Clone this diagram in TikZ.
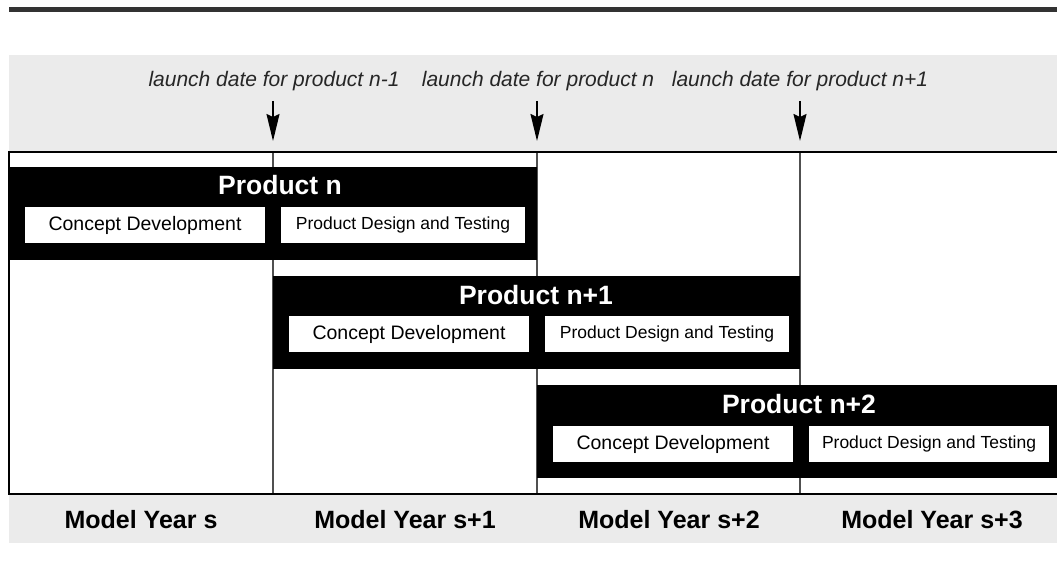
\documentclass[tikz,border=0pt]{standalone}
\usepackage{fontspec}
\setmainfont{Liberation Sans}
\usetikzlibrary{arrows.meta}

\definecolor{bandgray}{RGB}{235,235,235}
\definecolor{rulegray}{RGB}{51,51,51}
\definecolor{linegray}{RGB}{80,80,80}

\tikzstyle{launchlabel} = [anchor=base, font=\fontsize{21}{25}\selectfont\itshape, text=black!85]
\tikzstyle{productbar}  = [rectangle, anchor=north west, fill=black, inner sep=0pt, minimum height=93pt]
\tikzstyle{producttitle}= [anchor=base, text=white, font=\fontsize{26.5}{30}\selectfont\bfseries]
\tikzstyle{phasebox}    = [rectangle, fill=white, inner sep=0pt, minimum width=240pt, minimum height=36pt, font=\fontsize{19.5}{22}\selectfont]
\tikzstyle{designbox}   = [phasebox, font=\fontsize{17.5}{22}\selectfont]
\tikzstyle{yearlabel}   = [anchor=base, font=\fontsize{25}{30}\selectfont\bfseries]
\tikzstyle{launcharrow} = [line width=1.5pt, -{Stealth[length=27pt, width=13pt, inset=3pt]}]

\begin{document}
\begin{tikzpicture}[x=1pt, y=-1pt]
    \useasboundingbox (0,0) rectangle (1057,577);
    % bands and grid
    \fill[rulegray] (9,7) rectangle (1057,12);
    \fill[bandgray] (9,55) rectangle (1057,152);
    \fill[bandgray] (9,494) rectangle (1057,543);
    \foreach \x in {273, 537, 800}
        \draw[linegray, line width=1.2pt] (\x,152) -- (\x,494);
    \draw[line width=1.4pt] (1057,152) -- (9,152) -- (9,494) -- (1057,494);

    % launch dates
    \node (launchA) [launchlabel] at (274,87) {launch date for product n-1};
    \node (launchB) [launchlabel] at (538,87) {launch date for product n};
    \node (launchC) [launchlabel] at (800,87) {launch date for product n+1};
    \coordinate (tailA) at (273,101);
    \coordinate (tailB) at (537,101);
    \coordinate (tailC) at (800,101);
    \coordinate (tipA)  at (273,141);
    \coordinate (tipB)  at (537,141);
    \coordinate (tipC)  at (800,141);
    \draw[launcharrow] (tailA) -- (tipA);
    \draw[launcharrow] (tailB) -- (tipB);
    \draw[launcharrow] (tailC) -- (tipC);

    % products
    \node (prodN)  [productbar, minimum width=528pt] at (9,167)   {};
    \node (prodN1) [productbar, minimum width=527pt] at (273,276) {};
    \node (prodN2) [productbar, minimum width=520pt] at (537,385) {};
    \node (titleN)  [producttitle] at (280,195) {Product n};
    \node (titleN1) [producttitle] at (536,304) {Product n+1};
    \node (titleN2) [producttitle] at (799,413) {Product n+2};
    \node (conceptN)  [phasebox] at (145,225) {Concept Development};
    \node (designN)   [designbox, minimum width=244pt] at (403,225) {Product Design and Testing};
    \node (conceptN1) [phasebox] at (409,334) {Concept Development};
    \node (designN1)  [designbox, minimum width=244pt] at (667,334) {Product Design and Testing};
    \node (conceptN2) [phasebox] at (673,444) {Concept Development};
    \node (designN2)  [designbox] at (929,444) {Product Design and Testing};

    % model years
    \node (yearS)  [yearlabel] at (141,528) {Model Year s};
    \node (yearS1) [yearlabel] at (405,528) {Model Year s+1};
    \node (yearS2) [yearlabel] at (669,528) {Model Year s+2};
    \node (yearS3) [yearlabel] at (932,528) {Model Year s+3};
\end{tikzpicture}
\end{document}
